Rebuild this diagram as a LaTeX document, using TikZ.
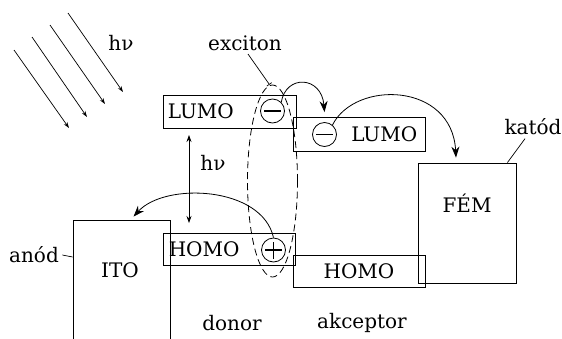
\documentclass[tikz,border=0pt]{standalone}
\usepackage{fontspec}
\setmainfont{DejaVu Serif}
\usetikzlibrary{arrows.meta,shapes.geometric}
\begin{document}
\begin{tikzpicture}[x=1pt,y=-1pt,
  every node/.style={font=\fontsize{20}{23}\selectfont},
  level/.style={draw, rectangle, line width=0.8pt, inner sep=0pt},
  charge/.style={draw, circle, minimum size=24pt, inner sep=0pt, line width=0.8pt},
  sign/.style={line width=1.5pt},
  hop/.style={line width=0.8pt, -{Stealth[length=11pt,width=8pt]}},
  ray/.style={line width=0.7pt, -{Stealth[length=6pt,width=4pt]}},
  lead/.style={line width=0.7pt},
  txt/.style={inner sep=0pt}]
\useasboundingbox (0,0) rectangle (562,338);
\clip (0,0) rectangle (562,338);

% incoming light
\coordinate (r1a) at (14,50);  \coordinate (r1b) at (69,128);
\coordinate (r2a) at (32,37);  \coordinate (r2b) at (87,117);
\coordinate (r3a) at (50,25);  \coordinate (r3b) at (105,104);
\coordinate (r4a) at (68,13);  \coordinate (r4b) at (123,92);
\foreach \i in {1,2,3,4} \draw[ray] (r\i a) -- (r\i b);
\node (hvtop) at (121,43) {hν};

% electrodes
\node[level, minimum width=97pt, minimum height=130pt] (ito) at (121.5,285) {};
\node (itot) at (120,270) {ITO};
\node[level, minimum width=98pt, minimum height=120pt] (fem) at (467,223) {};
\node (femt) at (467,203) {FÉM};

% energy levels
\node[level, minimum width=133pt, minimum height=33pt] (dL) at (229.5,111.5) {};
\node[txt, anchor=west] (dLt) at ([xshift=5pt]dL.west) {LUMO};
\node[level, minimum width=132pt, minimum height=34pt] (aL) at (359,134) {};
\node[txt, anchor=east] (aLt) at ([xshift=-8pt]aL.east) {LUMO};
\node[level, minimum width=132pt, minimum height=32pt] (dH) at (229,249) {};
\node[txt, anchor=west] (dHt) at ([xshift=6pt]dH.west) {HOMO};
\node[level, minimum width=132pt, minimum height=32pt] (aH) at (359,271) {HOMO};

% charges
\node[charge] (dM) at (272.5,111) {};
\node[charge] (aM) at (324.5,134.5) {};
\node[charge] (dP) at (273.5,250) {};
\draw[sign] ([xshift=-8.5pt]dM.center) -- ([xshift=8.5pt]dM.center);
\draw[sign] ([xshift=-8.5pt]aM.center) -- ([xshift=8.5pt]aM.center);
\draw[sign] ([xshift=-8.5pt]dP.center) -- ([xshift=8.5pt]dP.center);
\draw[sign] ([yshift=-8.5pt]dP.center) -- ([yshift=8.5pt]dP.center);

% exciton
\node[draw, ellipse, line width=0.8pt, dash pattern=on 7pt off 4pt,
      minimum width=50pt, minimum height=192pt, inner sep=0pt] (exc) at (272.5,181) {};
\node (exclbl) at (245,43) {exciton};
\draw[lead, -{Bar[width=6pt]}] ([xshift=3pt]exclbl.south) -- ([xshift=-3pt]exc.north);

% excitation
\coordinate (hvA) at (189,135);
\coordinate (hvB) at (189,223);
\draw[line width=0.7pt, {Stealth[length=7pt,width=5pt]}-{Stealth[length=7pt,width=5pt]}] (hvA) -- (hvB);
\node (hvmid) at (213,163) {hν};

% charge transfer
\draw[hop] (dM.45) .. controls (286,74) and (321.5,76) .. ([yshift=10pt]aM.north);
\draw[hop] (aM.50) .. controls (355,80) and (452,82) .. ([xshift=-11pt,yshift=5pt]fem.north);
\draw[hop] (dP.north) .. controls (262,186) and (165,182) .. ([xshift=12pt,yshift=3pt]ito.north);

% electrode labels
\node (katod) at (533,127) {katód};
\draw[lead] ([xshift=-8pt]katod.south) -- ([xshift=-9pt]fem.north east);
\node (anod) at (34,255) {anód};
\draw[lead] (anod.east) -- ([yshift=-2pt]anod.east -| ito.west);

\node (donor) at (232,323) {donor};
\node (akc) at (362,323) {akceptor};
\end{tikzpicture}
\end{document}
